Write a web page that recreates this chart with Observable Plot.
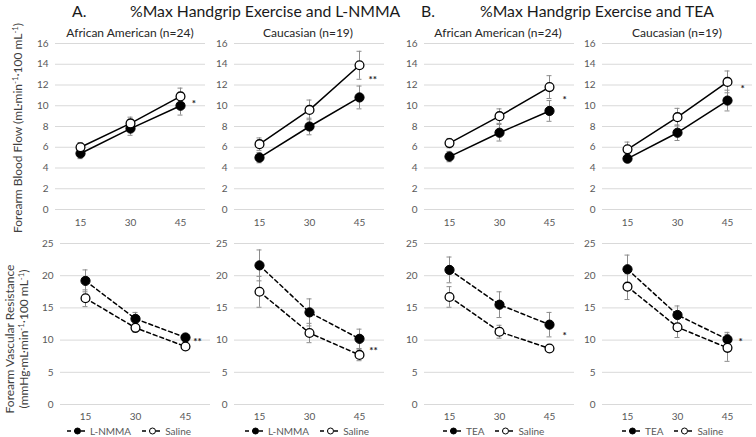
<!DOCTYPE html>
<html><head><meta charset="utf-8">
<script src="https://cdn.jsdelivr.net/npm/d3@7"></script>
<script src="https://cdn.jsdelivr.net/npm/@observablehq/plot@0.6"></script>
<style>
body{margin:0;background:#fff;font-family:Lato,"Open Sans",sans-serif;}
#root{position:relative;width:756px;height:437px;overflow:hidden;background:#fff;}
.abs{position:absolute;white-space:nowrap;line-height:1;}
.rot{position:absolute;white-space:nowrap;line-height:1.15;transform:translate(-50%,-50%) rotate(-90deg);text-align:center;color:#404040;font-size:12px;}
.leg{position:absolute;display:flex;align-items:center;font-size:10px;color:#595959;white-space:nowrap;}
sup{font-size:0.65em;vertical-align:0.55em;line-height:0;}
</style></head><body><div id="root"></div>
<script>
// ---- data ----
const times = [15, 30, 45];
const fbfTicks = [0, 2, 4, 6, 8, 10, 12, 14, 16];
const fvrTicks = [0, 5, 10, 15, 20, 25];

// Forearm blood flow, L-NMMA, African American
const fbfAA_LNMMA = [5.4, 7.8, 10.0];
const fbfAA_LNMMA_se = [0.5, 0.65, 0.9];
const fbfAA_LNMMA_sal = [6.0, 8.3, 10.9];
const fbfAA_LNMMA_sal_se = [0.45, 0.6, 0.8];
// Forearm blood flow, L-NMMA, Caucasian
const fbfCA_LNMMA = [5.0, 8.0, 10.8];
const fbfCA_LNMMA_se = [0.5, 0.8, 1.1];
const fbfCA_LNMMA_sal = [6.3, 9.6, 13.9];
const fbfCA_LNMMA_sal_se = [0.6, 0.95, 1.35];
// Forearm blood flow, TEA, African American
const fbfAA_TEA = [5.1, 7.4, 9.5];
const fbfAA_TEA_se = [0.5, 0.8, 1.0];
const fbfAA_TEA_sal = [6.4, 9.0, 11.8];
const fbfAA_TEA_sal_se = [0.45, 0.7, 1.1];
// Forearm blood flow, TEA, Caucasian
const fbfCA_TEA = [4.9, 7.4, 10.5];
const fbfCA_TEA_se = [0.35, 0.75, 1.0];
const fbfCA_TEA_sal = [5.8, 8.9, 12.3];
const fbfCA_TEA_sal_se = [0.7, 0.85, 1.05];

// Forearm vascular resistance, L-NMMA, African American
const fvrAA_LNMMA = [19.2, 13.3, 10.4];
const fvrAA_LNMMA_se = [1.7, 1.0, 0.65];
const fvrAA_LNMMA_sal = [16.5, 11.9, 9.0];
const fvrAA_LNMMA_sal_se = [1.3, 0.7, 0.5];
// Forearm vascular resistance, L-NMMA, Caucasian
const fvrCA_LNMMA = [21.6, 14.3, 10.2];
const fvrCA_LNMMA_se = [2.4, 2.1, 1.5];
const fvrCA_LNMMA_sal = [17.5, 11.1, 7.7];
const fvrCA_LNMMA_sal_se = [2.4, 1.5, 0.9];
// Forearm vascular resistance, TEA, African American
const fvrAA_TEA = [20.9, 15.5, 12.4];
const fvrAA_TEA_se = [2.0, 2.0, 1.9];
const fvrAA_TEA_sal = [16.7, 11.3, 8.7];
const fvrAA_TEA_sal_se = [1.6, 1.0, 0.3];
// Forearm vascular resistance, TEA, Caucasian
const fvrCA_TEA = [21.0, 13.9, 10.1];
const fvrCA_TEA_se = [2.2, 1.4, 1.1];
const fvrCA_TEA_sal = [18.3, 12.0, 8.8];
const fvrCA_TEA_sal_se = [2.0, 1.6, 2.1];

// significance markers: [x (min), y (value), label]
const starFbfAA_LNMMA = [49, 10.5, "*"];
const starFbfCA_LNMMA = [49, 12.8, "**"];
const starFbfAA_TEA = [49.5, 10.9, "*"];
const starFbfCA_TEA = [49.5, 11.9, "*"];
const starFvrAA_LNMMA = [48.6, 10.25, "**"];
const starFvrCA_LNMMA = [49.2, 8.85, "**"];
const starFvrAA_TEA = [49.5, 11.2, "*"];
const starFvrCA_TEA = [48.9, 10.25, "*"];

const titles = ["A.", "%Max Handgrip Exercise and L-NMMA", "B.", "%Max Handgrip Exercise and TEA"];
const groups = ["African American (n=24)", "Caucasian (n=19)"];
const drugs = ["L-NMMA", "TEA"];

// ---- layout ----
const root = document.getElementById("root");
const ML = 40, MR = 4, PW = 150;
const rowCfg = {
  top: {top: 33, mt: 10, ph: 166, mb: 25, max: 16, ticks: fbfTicks, dash: null, tp: 9},
  bottom: {top: 233, mt: 10, ph: 161, mb: 20, max: 25, ticks: fvrTicks, dash: "4,3", tp: 8}
};
const panels = [
  {row: "top", gx: 55, drug: fbfAA_LNMMA, dse: fbfAA_LNMMA_se, sal: fbfAA_LNMMA_sal, sse: fbfAA_LNMMA_sal_se, star: starFbfAA_LNMMA},
  {row: "top", gx: 234, drug: fbfCA_LNMMA, dse: fbfCA_LNMMA_se, sal: fbfCA_LNMMA_sal, sse: fbfCA_LNMMA_sal_se, star: starFbfCA_LNMMA},
  {row: "top", gx: 424, drug: fbfAA_TEA, dse: fbfAA_TEA_se, sal: fbfAA_TEA_sal, sse: fbfAA_TEA_sal_se, star: starFbfAA_TEA},
  {row: "top", gx: 602, drug: fbfCA_TEA, dse: fbfCA_TEA_se, sal: fbfCA_TEA_sal, sse: fbfCA_TEA_sal_se, star: starFbfCA_TEA},
  {row: "bottom", gx: 60, drug: fvrAA_LNMMA, dse: fvrAA_LNMMA_se, sal: fvrAA_LNMMA_sal, sse: fvrAA_LNMMA_sal_se, star: starFvrAA_LNMMA},
  {row: "bottom", gx: 234, drug: fvrCA_LNMMA, dse: fvrCA_LNMMA_se, sal: fvrCA_LNMMA_sal, sse: fvrCA_LNMMA_sal_se, star: starFvrCA_LNMMA},
  {row: "bottom", gx: 424, drug: fvrAA_TEA, dse: fvrAA_TEA_se, sal: fvrAA_TEA_sal, sse: fvrAA_TEA_sal_se, star: starFvrAA_TEA},
  {row: "bottom", gx: 602, drug: fvrCA_TEA, dse: fvrCA_TEA_se, sal: fvrCA_TEA_sal, sse: fvrCA_TEA_sal_se, star: starFvrCA_TEA}
];

function makePanel(p) {
  const r = rowCfg[p.row];
  const drugRows = times.map((t, i) => ({t, v: p.drug[i], se: p.dse[i]}));
  const salRows = times.map((t, i) => ({t, v: p.sal[i], se: p.sse[i]}));
  const all = drugRows.concat(salRows);
  const ebar = {stroke: "#8c8c8c", strokeWidth: 1};
  const chart = Plot.plot({
    width: ML + PW + MR,
    height: r.mt + r.ph + r.mb,
    marginLeft: ML, marginRight: MR, marginTop: r.mt, marginBottom: r.mb,
    x: {domain: [7.5, 52.5], ticks: times, tickSize: 0, tickPadding: r.tp, tickFormat: d => String(d), label: null},
    y: {domain: [0, r.max], ticks: r.ticks, tickSize: 0, tickPadding: 7, label: null},
    style: {fontFamily: "Lato, 'Open Sans', sans-serif", fontSize: "10px", color: "#595959", background: "transparent", overflow: "visible"},
    marks: [
      Plot.ruleY(r.ticks, {stroke: "#d9d9d9", strokeWidth: 1}),
      Plot.ruleX(all, {x: "t", y1: d => d.v - d.se, y2: d => d.v + d.se, ...ebar}),
      Plot.ruleY(all, {y: d => d.v + d.se, x1: d => d.t - 0.75, x2: d => d.t + 0.75, ...ebar}),
      Plot.ruleY(all, {y: d => d.v - d.se, x1: d => d.t - 0.75, x2: d => d.t + 0.75, ...ebar}),
      Plot.line(drugRows, {x: "t", y: "v", stroke: "black", strokeWidth: 1.5, strokeDasharray: r.dash}),
      Plot.line(salRows, {x: "t", y: "v", stroke: "black", strokeWidth: 1.5, strokeDasharray: r.dash}),
      Plot.dot(drugRows, {x: "t", y: "v", r: 4.6, fill: "black", stroke: "black", strokeWidth: 1}),
      Plot.dot(salRows, {x: "t", y: "v", r: 4.4, fill: "white", stroke: "black", strokeWidth: 1.3}),
      Plot.text([p.star], {x: d => d[0], y: d => d[1], text: d => d[2], fill: "#222", fontSize: 10, fontWeight: "bold", dy: 3})
    ]
  });
  chart.style.position = "absolute";
  chart.style.left = (p.gx - ML) + "px";
  chart.style.top = r.top + "px";
  root.appendChild(chart);
}
panels.forEach(makePanel);

function addText(html, left, top, css) {
  const d = document.createElement("div");
  d.className = "abs";
  d.innerHTML = html;
  d.style.left = left + "px";
  d.style.top = top + "px";
  Object.assign(d.style, css || {});
  root.appendChild(d);
  return d;
}
// titles
addText(titles[0], 72, 3, {fontSize: "15.8px", color: "#1a1a1a"});
addText(titles[1], 130, 3, {fontSize: "15.8px", color: "#1a1a1a"});
addText(titles[2], 421, 3, {fontSize: "15.8px", color: "#1a1a1a"});
addText(titles[3], 480, 3, {fontSize: "15.8px", color: "#1a1a1a"});
// group subtitles (centered)
[[130, groups[0]], [308, groups[1]], [498, groups[0]], [677, groups[1]]].forEach(([cx, t]) => {
  addText(t, cx, 27, {fontSize: "12px", color: "#262626", transform: "translateX(-50%)"});
});
// y titles
const y1 = document.createElement("div");
y1.className = "rot";
y1.style.left = "18px"; y1.style.top = "128px";
y1.innerHTML = "Forearm Blood Flow (mL·min<sup>-1</sup>·100 mL<sup>-1</sup>)";
root.appendChild(y1);
const y2 = document.createElement("div");
y2.className = "rot";
y2.style.left = "17px"; y2.style.top = "339px";
y2.innerHTML = "Forearm Vascular Resistance<br>(mmHg·mL·min<sup>-1</sup>·100 mL<sup>-1</sup>)";
root.appendChild(y2);

// legends
function sym(filled) {
  return `<svg width="21" height="10" style="margin-right:2px"><line x1="0" y1="5" x2="21" y2="5" stroke="black" stroke-width="1.5" stroke-dasharray="4,3"/>` +
    `<circle cx="10.5" cy="5" r="3" fill="${filled ? "black" : "white"}" stroke="black" stroke-width="1"/></svg>`;
}
[[67, drugs[0]], [245, drugs[0]], [443, drugs[1]], [622, drugs[1]]].forEach(([x, dname]) => {
  const d = document.createElement("div");
  d.className = "leg";
  d.style.left = x + "px";
  d.style.top = "425px";
  d.innerHTML = sym(true) + `<span style="margin-right:11px">${dname}</span>` + sym(false) + `<span>Saline</span>`;
  root.appendChild(d);
});
</script>
</body></html>
